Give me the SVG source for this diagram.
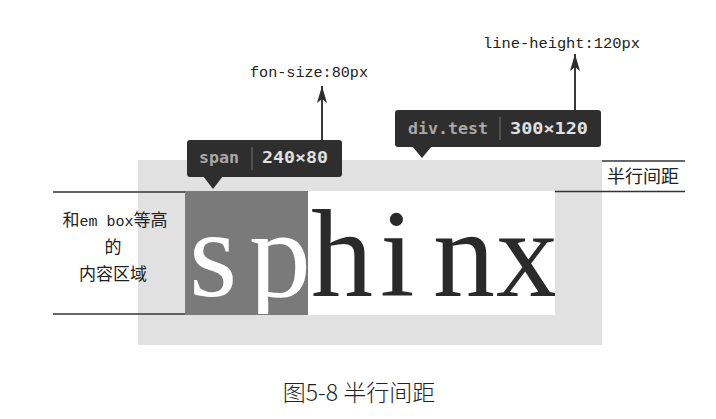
<svg xmlns="http://www.w3.org/2000/svg" width="716" height="419" viewBox="0 0 716 419">
<defs>
<style>
.line{stroke:#333;stroke-width:1.6;fill:none}
.conn{stroke:#3a3a3a;stroke-width:2;fill:none}
.tip{fill:#2e2e2e}
.tipk{font-family:"DejaVu Sans Mono","Liberation Mono",monospace;font-weight:bold;font-size:15px;fill:#a8a8a8}
.tipv{font-family:"DejaVu Sans Mono","Liberation Mono",monospace;font-weight:bold;font-size:15px;fill:#e0e0e0}
.sep{stroke:#777;stroke-width:1}
.mono{font-family:"Liberation Mono","DejaVu Sans Mono",monospace;font-size:14px;fill:#222}
.cjk{font-family:"Noto Sans CJK SC","Noto Sans",sans-serif;fill:#222}
.big{font-family:"Liberation Serif","DejaVu Serif",serif;font-size:124px}
</style>
<marker id="ah" viewBox="-18 -6 19 12" refX="0" refY="0" markerWidth="19" markerHeight="12" markerUnits="userSpaceOnUse" orient="auto">
<path d="M0,0 L-17,-5 L-13,0 L-17,5 Z" fill="#2e2e2e"/>
</marker>
<clipPath id="boxclip"><rect x="185" y="191" width="370" height="123"/></clipPath>
</defs>
<rect width="716" height="419" fill="#fff"/>
<g id="div-test-box">
<rect x="138" y="160" width="464" height="185" fill="#e1e1e1"/>
<rect x="185" y="191" width="370" height="124" fill="#fff"/>
</g>
<g id="span-box">
<rect x="185" y="191" width="123" height="124" fill="#7a7a7a"/>
</g>
<g id="sphinx-text" clip-path="url(#boxclip)">
<text class="big" y="296"><tspan x="189" fill="#fff">s</tspan><tspan x="249" fill="#fff">p</tspan><tspan x="311" fill="#2a2a2a">h</tspan><tspan x="380" fill="#2a2a2a">i</tspan><tspan x="433" fill="#2a2a2a">n</tspan><tspan x="496" fill="#2a2a2a">x</tspan></text>
</g>
<g id="span-tooltip">
<rect class="tip" x="187" y="140" width="155" height="37" rx="3"/>
<path class="tip" d="M203,176 L223,176 L213,189 Z"/>
<text class="tipk" x="199" y="163" textLength="40" lengthAdjust="spacingAndGlyphs">span</text>
<line class="sep" x1="252" y1="147" x2="252" y2="170"/>
<text class="tipv" x="262" y="163" textLength="66" lengthAdjust="spacingAndGlyphs">240×80</text>
</g>
<g id="div-tooltip">
<rect class="tip" x="395" y="110" width="206" height="37" rx="3"/>
<path class="tip" d="M412,146 L432,146 L422,158 Z"/>
<text class="tipk" x="408" y="134" textLength="80" lengthAdjust="spacingAndGlyphs">div.test</text>
<line class="sep" x1="500" y1="117" x2="500" y2="140"/>
<text class="tipv" x="510" y="134" textLength="78" lengthAdjust="spacingAndGlyphs">300×120</text>
</g>
<g id="font-size-label">
<text class="mono" x="250" y="77" textLength="118" lengthAdjust="spacingAndGlyphs">fon-size:80px</text>
</g>
<g id="line-height-label">
<text class="mono" x="483" y="48" textLength="157" lengthAdjust="spacingAndGlyphs">line-height:120px</text>
</g>
<g id="content-area-label">
<text class="cjk" font-size="17" text-anchor="middle"><tspan x="115" y="226">和<tspan font-family="Liberation Mono,monospace" font-size="15">em box</tspan>等高</tspan><tspan x="113" y="253">的</tspan><tspan x="113" y="280">内容区域</tspan></text>
</g>
<g id="half-leading-label">
<text class="cjk" font-size="18" x="607" y="183">半行间距</text>
</g>
<g id="connectors">
<line class="line" x1="53" y1="192" x2="185" y2="192"/>
<line class="line" x1="53" y1="314" x2="185" y2="314"/>
<line class="line" x1="602" y1="161" x2="685" y2="161"/>
<line class="line" x1="555" y1="191.5" x2="685" y2="191.5"/>
<line class="conn" x1="322" y1="140" x2="322" y2="86" marker-end="url(#ah)"/>
<line class="conn" x1="575" y1="110" x2="575" y2="54" marker-end="url(#ah)"/>
</g>
<g id="caption">
<text class="cjk" font-size="23" x="359" y="401" text-anchor="middle" fill="#3a3a3a" font-weight="300">图5-8 半行间距</text>
</g>
</svg>
